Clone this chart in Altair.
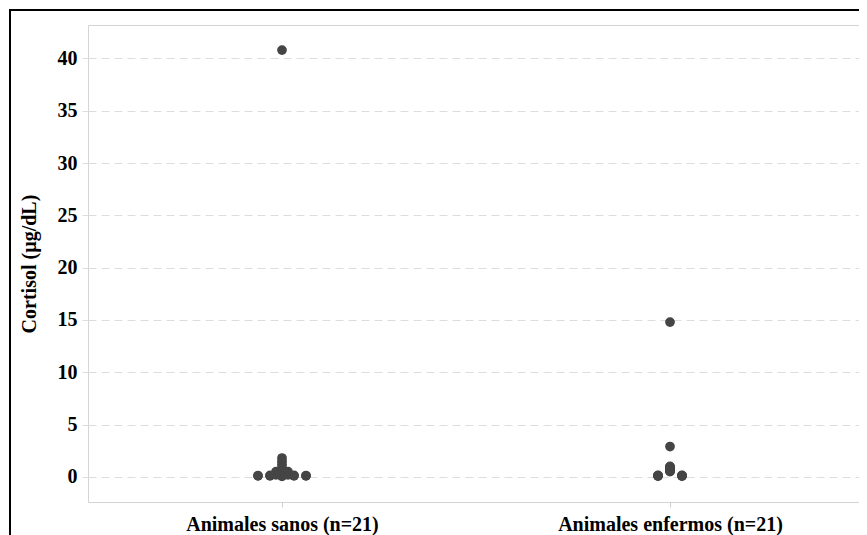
import altair as alt
import pandas as pd

# ---- data ----
categories = ["Animales sanos (n=21)", "Animales enfermos (n=21)"]

sanos_values = [40.8, 1.8, 1.5, 1.2, 0.9, 0.6, 0.3, 0.1, 0.05,
                0.5, 0.2, 0.5, 0.2,
                0.1, 0.15, 0.1, 0.15,
                0.1, 0.12, 0.1, 0.12]
sanos_cols = [0, 0, 0, 0, 0, 0, 0, 0, 0,
              -0.5, -0.5, 0.5, 0.5,
              -1, -1, 1, 1,
              -2, -2, 2, 2]

enfermos_values = [14.8, 2.9, 1.0, 0.95, 0.9, 0.85, 0.8, 0.75, 0.7, 0.65, 0.6, 0.55, 0.5,
                   0.1, 0.12, 0.15, 0.08,
                   0.1, 0.12, 0.14, 0.08]
enfermos_cols = [0, 0, 0, 0, 0, 0, 0, 0, 0, 0, 0, 0, 0,
                 -1, -1, -1, -1,
                 1, 1, 1, 1]

y_ticks = [0, 5, 10, 15, 20, 25, 30, 35, 40]

rows = []
for gi, (vals, cols) in enumerate([(sanos_values, sanos_cols), (enfermos_values, enfermos_cols)]):
    for v, c in zip(vals, cols):
        rows.append({"group": gi + 1, "col": c, "cortisol": v, "grupo": categories[gi]})
df = pd.DataFrame(rows)

PLOT_W, PLOT_H = 771, 477
UNIT_PX = 388.0                      # pixels per category step
x_max = 0.5 + PLOT_W / UNIT_PX
col_step = 12 / UNIT_PX              # beeswarm column spacing in x units

label_expr = "datum.value == 1 ? '%s' : '%s'" % (categories[0], categories[1])

FONT = "Liberation Serif"

points = alt.Chart(df).transform_calculate(
    xpos="datum.group + datum.col * %f" % col_step
).mark_circle(size=95, opacity=1, color="#454545").encode(
    x=alt.X("xpos:Q",
            scale=alt.Scale(domain=[0.5, x_max], nice=False, zero=False),
            axis=alt.Axis(values=[1, 2], labelExpr=label_expr, title=None, grid=False,
                          tickSize=5, labelPadding=7, labelLimit=0)),
    y=alt.Y("cortisol:Q",
            scale=alt.Scale(domain=[-2.4, 43.2], nice=False, zero=False),
            axis=alt.Axis(values=y_ticks, title="Cortisol (µg/dL)", grid=True,
                          gridDash=[8, 5], gridColor="#dddddd", tickSize=6,
                          tickColor="#dddddd", labelPadding=5, titlePadding=18)),
    tooltip=["grupo:N", "cortisol:Q"],
)

frame = alt.Chart(pd.DataFrame({"k": [0]})).mark_rect(
    fill=None, stroke="black", strokeWidth=2, clip=False
).encode(
    x=alt.value(-78), x2=alt.value(3000), y=alt.value(-15), y2=alt.value(3000)
)

chart = alt.layer(points, frame).properties(
    width=PLOT_W, height=PLOT_H,
    autosize=alt.AutoSizeParams(type="none"),
    padding={"left": 80, "top": 17, "right": 0, "bottom": 34},
    background="white",
).configure_view(
    stroke="#d4d4d4", strokeWidth=1
).configure_axis(
    labelFont=FONT, labelFontWeight="bold", labelFontSize=20, labelColor="black",
    titleFont=FONT, titleFontWeight="bold", titleFontSize=20, titleColor="black",
    domain=False, tickColor="#cccccc"
)

chart.save("out.html", embed_options={"renderer": "svg", "actions": False})
